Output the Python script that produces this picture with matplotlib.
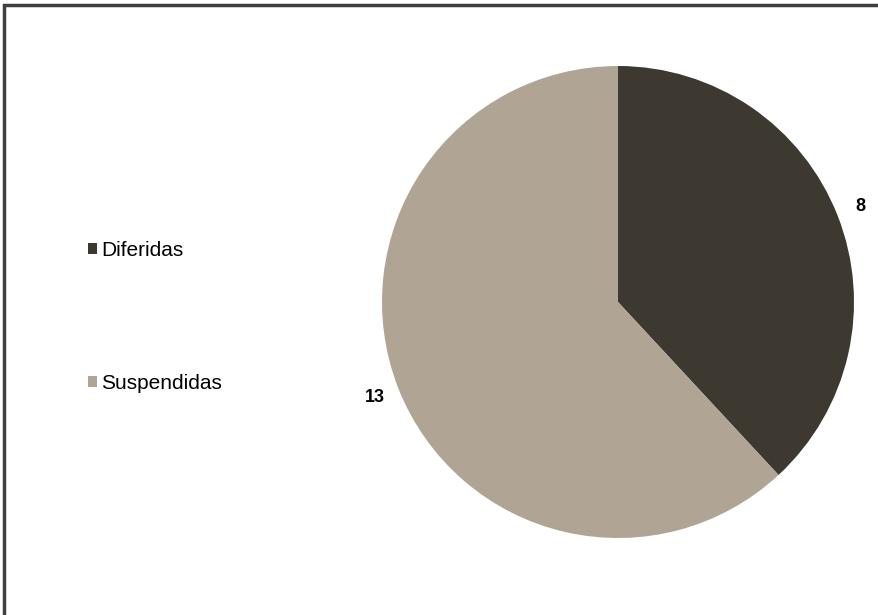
import matplotlib
matplotlib.use("Agg")
import matplotlib.pyplot as plt
from matplotlib.patches import Rectangle

categories = ["Diferidas", "Suspendidas"]
values = [8, 13]
colors = ["#3d3830", "#b0a595"]

plt.rcParams['font.family'] = ['Liberation Sans', 'DejaVu Sans']

W, H = 879, 615
fig = plt.figure(figsize=(W / 100, H / 100), dpi=100)
ax = fig.add_axes([0, 0, 1, 1])

wedges, texts = ax.pie(values, colors=colors, startangle=90, counterclock=False,
                       center=(618, H - 302), radius=236, labels=[str(v) for v in values],
                       labeldistance=1.105, frame=True,
                       textprops=dict(fontsize=13, fontweight='bold', color='black'))
for t in texts:
    t.set_horizontalalignment('center')
ax.set_xlim(0, W)
ax.set_ylim(0, H)
ax.set_aspect('equal')
ax.axis('off')

leg = ax.legend(wedges, categories, loc='upper left', bbox_to_anchor=(88 / W, 1 - 241 / H),
                frameon=False, fontsize=15, labelspacing=5.45, handlelength=0.45,
                handleheight=0.45, handletextpad=0.2, borderpad=0, borderaxespad=0)

fig.patches.append(Rectangle((4 / W, -0.1), 1.2, 1 - 5 / H + 0.1, transform=fig.transFigure,
                             fill=False, edgecolor='#404040', linewidth=2.5))

fig.savefig("out.png", dpi=100, facecolor='white')
